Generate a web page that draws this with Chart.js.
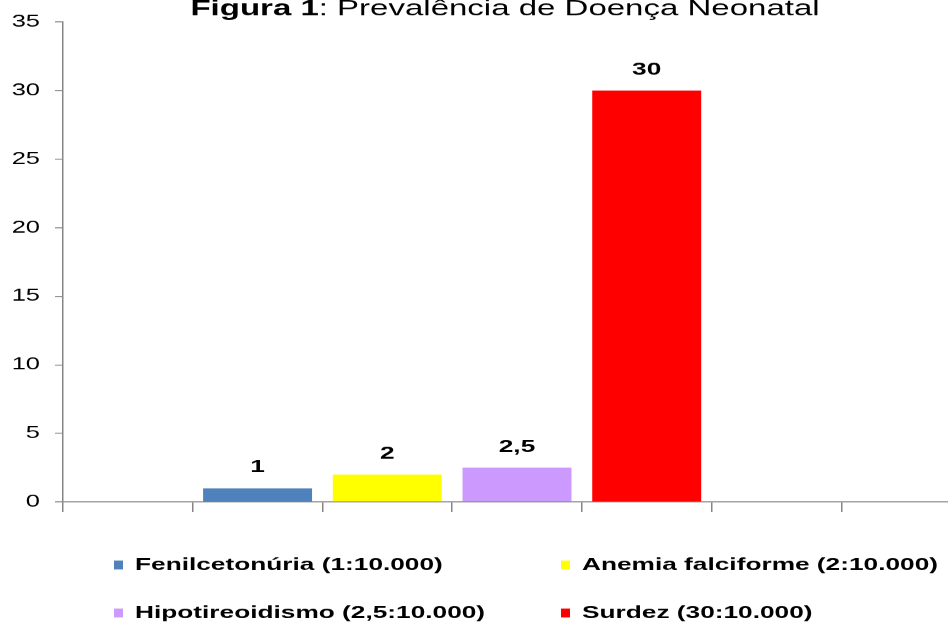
<!DOCTYPE html>
<html>
<head>
<meta charset="utf-8">
<script src="https://cdn.jsdelivr.net/npm/chart.js@4.4.0/dist/chart.umd.min.js"></script>
<style>
  html, body { margin: 0; padding: 0; background: #fff; overflow: hidden; }
</style>
</head>
<body>
<!-- the original picture is stretched sideways, so the canvas is too (inline style so Chart.js keeps it) -->
<canvas id="chart" width="650" height="626" style="width:975px;height:626px"></canvas>
<script>
var slots = ['', 'Fenilcetonúria', 'Anemia falciforme', 'Hipotireoidismo', 'Surdez', '', ''];
var seriesNames = ['Fenilcetonúria (1:10.000)', 'Anemia falciforme (2:10.000)', 'Hipotireoidismo (2,5:10.000)', 'Surdez (30:10.000)'];
var seriesValues = [1, 2, 2.5, 30];
var seriesSlot = [1, 2, 3, 4];
var seriesColors = ['#4F81BD', '#FFFF00', '#CC99FF', '#FF0000'];
var titleBold = 'Figura 1';
var titleRest = ': Prevalência de Doença Neonatal';
var yMin = 0, yMax = 35, yStep = 5;

var SX = 1.5; // horizontal stretch
var FONT = '"Liberation Sans", Arial, sans-serif';

function fmt(v) {
	return String(v).replace('.', ',');
}

var datasets = seriesNames.map(function(name, i) {
	var data = slots.map(function() { return null; });
	data[seriesSlot[i]] = seriesValues[i];
	return {
		label: name,
		data: data,
		backgroundColor: seriesColors[i],
		borderWidth: 0,
		skipNull: true,
		barPercentage: 0.84,
		categoryPercentage: 1
	};
});

var titlePlugin = {
	id: 'mixedTitle',
	afterDraw: function(chart) {
		var ctx = chart.ctx;
		ctx.save();
		ctx.fillStyle = '#000';
		ctx.textBaseline = 'alphabetic';
		ctx.textAlign = 'left';
		ctx.font = 'bold 22px ' + FONT;
		var w1 = ctx.measureText(titleBold).width;
		ctx.font = '22px ' + FONT;
		var w2 = ctx.measureText(titleRest).width;
		var x = 505 / SX - (w1 + w2) / 2;
		ctx.font = 'bold 22px ' + FONT;
		ctx.fillText(titleBold, x, 15);
		ctx.font = '22px ' + FONT;
		ctx.fillText(titleRest, x + w1, 15);
		ctx.restore();
	}
};

var valuePlugin = {
	id: 'values',
	afterDatasetsDraw: function(chart) {
		var ctx = chart.ctx;
		ctx.save();
		ctx.fillStyle = '#000';
		ctx.font = 'bold 17.5px ' + FONT;
		ctx.textAlign = 'center';
		ctx.textBaseline = 'alphabetic';
		chart.data.datasets.forEach(function(ds, i) {
			chart.getDatasetMeta(i).data.forEach(function(el, j) {
				if (ds.data[j] == null) return;
				ctx.fillText(fmt(ds.data[j]), el.x, el.y - 16);
			});
		});
		ctx.restore();
	}
};

var legendPlugin = {
	id: 'gridLegend',
	afterDraw: function(chart) {
		var ctx = chart.ctx;
		var cols = [114 / SX, 561 / SX];
		var rows = [565, 613];
		ctx.save();
		ctx.font = 'bold 17.5px ' + FONT;
		ctx.textBaseline = 'middle';
		ctx.textAlign = 'left';
		chart.data.datasets.forEach(function(ds, i) {
			var x = cols[i % 2], y = rows[Math.floor(i / 2)];
			ctx.fillStyle = ds.backgroundColor;
			ctx.fillRect(x, y - 4.5, 9 / SX, 9);
			ctx.fillStyle = '#000';
			ctx.fillText(ds.label, x + 21 / SX, y);
		});
		ctx.restore();
	}
};

new Chart(document.getElementById('chart'), {
	type: 'bar',
	data: { labels: slots, datasets: datasets },
	plugins: [titlePlugin, valuePlugin, legendPlugin],
	options: {
		responsive: false,
		animation: false,
		devicePixelRatio: SX,
		layout: { padding: { top: 22, right: (975 - 971) / SX, bottom: 114, left: 0 } },
		plugins: {
			legend: { display: false },
			title: { display: false },
			tooltip: { enabled: false }
		},
		scales: {
			x: {
				grid: { offset: true, drawOnChartArea: false, drawTicks: true, tickLength: 10, color: '#868686' },
				border: { display: true, color: '#868686', width: 1 },
				ticks: { display: false },
				afterFit: function(scale) { scale.height = 10; }
			},
			y: {
				min: yMin,
				max: yMax,
				grid: { drawOnChartArea: false, drawTicks: true, tickLength: 8 / SX, color: '#868686' },
				border: { display: true, color: '#868686', width: 1 },
				ticks: { stepSize: yStep, padding: 10, color: '#000', font: { family: FONT, size: 17 } },
				afterFit: function(scale) { scale.width = 63 / SX; }
			}
		}
	}
});
</script>
</body>
</html>
